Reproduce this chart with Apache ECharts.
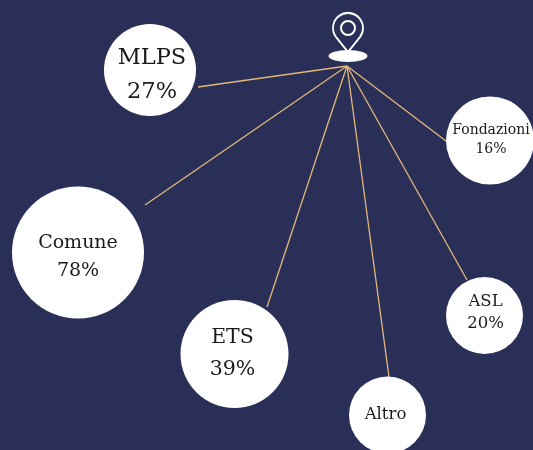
<!DOCTYPE html>
<html>
<head>
<meta charset="utf-8">
<style>html,body{margin:0;padding:0;background:#2a2f57}#c{width:533px;height:450px}</style>
<script src="https://cdn.jsdelivr.net/npm/echarts@6/dist/echarts.min.js"></script>
</head>
<body>
<div id="c"></div>
<script>
// Data
var categories = ['MLPS', 'Comune', 'ETS', 'Altro', 'ASL', 'Fondazioni'];
var shares = ['27%', '78%', '39%', '', '20%', '16%'];

// Layout (pixel coordinates on hidden axes)
var centerX = [150, 78, 234.5, 387.5, 484.5, 490];
var centerY = [70, 252.5, 354, 415, 315.5, 140.5];
var radius = [46, 66, 54, 38.5, 38.5, 44];
var fontSizes = [22.5, 19, 20.5, 16.5, 16.5, 14];
var lineHeights = [34, 28, 32, 22, 22, 19];
var labelDx = [2, 0, -2, -2, 1, 1];
var labelDy = [5, 5, 0, 0, -3, -1];
var lineEndX = [198, 145, 267, 389, 467, 446];
var lineEndY = [87, 205, 307, 377, 280, 141];
var hub = [347, 66];
var pinPath = 'path://M15 39L3 24A15 15 0 1 1 27 24Z';

var chart = echarts.init(document.getElementById('c'), null, {renderer: 'canvas'});
chart.setOption({
  backgroundColor: '#2a2f57',
  animation: false,
  tooltip: {show: false},
  grid: {left: 0, right: 0, top: 0, bottom: 0},
  xAxis: {type: 'value', min: 0, max: 533, show: false},
  yAxis: {type: 'value', min: 0, max: 450, inverse: true, show: false},
  series: [
    {
      type: 'lines',
      coordinateSystem: 'cartesian2d',
      silent: true,
      z: 2,
      lineStyle: {color: '#e3b878', width: 1.3, opacity: 1, curveness: 0},
      data: categories.map(function (c, i) {
        return {name: c, coords: [hub, [lineEndX[i], lineEndY[i]]]};
      })
    },
    {
      type: 'scatter',
      silent: true,
      z: 3,
      symbol: 'circle',
      clip: false,
      itemStyle: {color: '#ffffff', opacity: 1},
      data: categories.map(function (c, i) {
        return {
          name: c,
          value: [centerX[i], centerY[i]],
          symbolSize: radius[i] * 2,
          label: {
            show: true,
            position: 'inside',
            offset: [labelDx[i], labelDy[i]],
            formatter: shares[i] ? c + '\n' + shares[i] : c,
            color: '#1a1a1a',
            fontFamily: 'DejaVu Serif',
            fontSize: fontSizes[i],
            lineHeight: lineHeights[i],
            align: 'center',
            verticalAlign: 'middle'
          }
        };
      })
    },
    {
      type: 'scatter',
      silent: true,
      z: 4,
      data: [
        {value: [348, 32.5], symbol: pinPath, symbolKeepAspect: false, symbolSize: [30, 39],
         itemStyle: {color: 'rgba(0,0,0,0)', borderColor: '#ffffff', borderWidth: 2, opacity: 1}},
        {value: [348, 28], symbol: 'circle', symbolSize: 14,
         itemStyle: {color: 'rgba(0,0,0,0)', borderColor: '#ffffff', borderWidth: 2, opacity: 1}},
        {value: [348, 56], symbol: 'circle', symbolSize: [39, 12],
         itemStyle: {color: '#ffffff', opacity: 1}}
      ]
    }
  ]
});
</script>
</body>
</html>
